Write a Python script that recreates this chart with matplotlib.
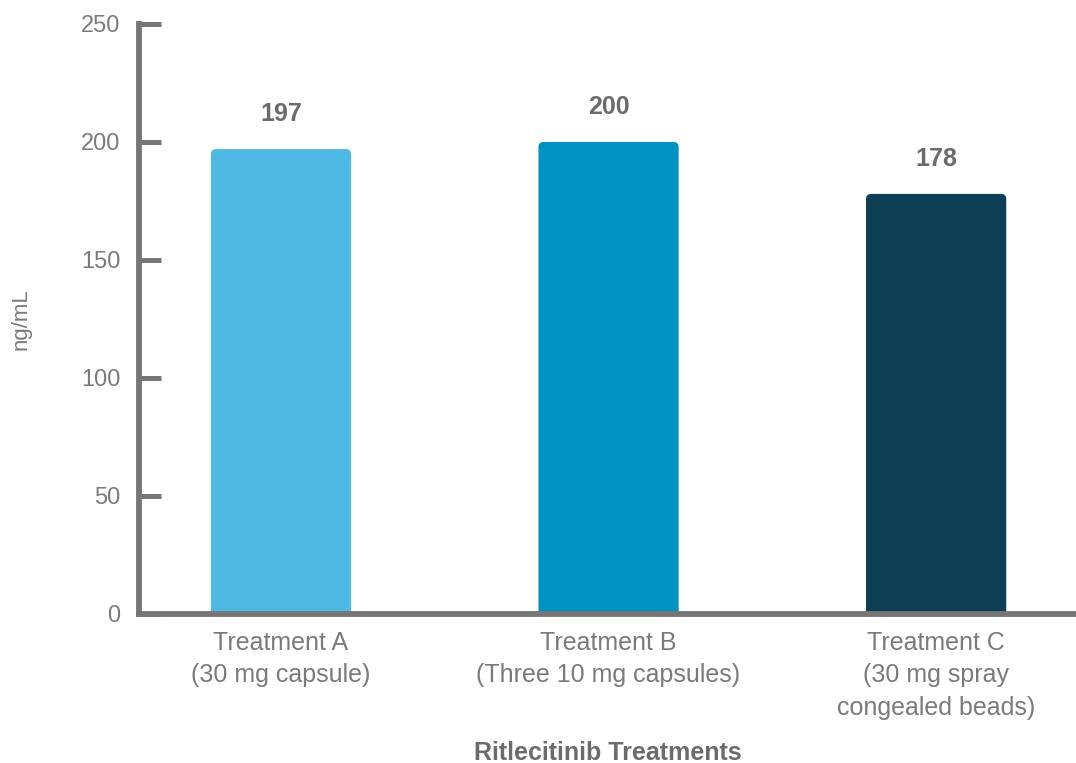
import matplotlib
matplotlib.use("Agg")
import matplotlib.pyplot as plt
from matplotlib.patches import FancyBboxPatch

categories = ["Treatment A\n(30 mg capsule)",
              "Treatment B\n(Three 10 mg capsules)",
              "Treatment C\n(30 mg spray\ncongealed beads)"]
values = [197, 200, 178]
colors = ["#4FB9E6", "#0093C2", "#0D3F54"]
yticks = [0, 50, 100, 150, 200, 250]

plt.rcParams['font.family'] = ['Liberation Sans', 'DejaVu Sans']

fig = plt.figure(figsize=(10.76, 7.63), dpi=100)
ax = fig.add_axes([0.129, 0.1953, 0.871, 0.7733])

x = list(range(len(values)))
bars = ax.bar(x, values, width=0.428, color=colors, zorder=1)
# replace with slightly rounded bars using the bars' own geometry
for b in bars:
    bx, bw, bh = b.get_x(), b.get_width(), b.get_height()
    fc = b.get_facecolor()
    b.set_visible(False)
    p = FancyBboxPatch((bx, -6), bw, bh + 6,
                       boxstyle="round,pad=0,rounding_size=0.016",
                       mutation_aspect=130, facecolor=fc, edgecolor='none',
                       zorder=1)
    ax.add_patch(p)

for xi, v in zip(x, values):
    ax.text(xi, v + 12, str(v), ha='center', va='baseline', fontsize=18,
            fontweight='bold', color='#6b6b6b')

ax.set_xlim(-0.434, 2.427)
ax.set_ylim(0, 250)
ax.set_yticks(yticks)
ax.set_xticks(x)
ax.set_xticklabels(categories, fontsize=18, color='#7a7a7a', linespacing=1.45)

spine_c = '#767676'
for s in ['top', 'right']:
    ax.spines[s].set_visible(False)
for s in ['left', 'bottom']:
    ax.spines[s].set_color(spine_c)
    ax.spines[s].set_linewidth(4.2)
    ax.spines[s].set_zorder(3)

ax.tick_params(axis='y', direction='in', length=16, width=3.6, color=spine_c,
               labelsize=17, labelcolor='#7a7a7a', pad=13)
ax.tick_params(axis='x', length=0, pad=12)

ax.set_ylabel('ng/mL', fontsize=16, color='#7a7a7a', labelpad=36)
ax.set_xlabel('Ritlecitinib Treatments', fontsize=18, fontweight='bold',
              color='#6b6b6b')
ax.xaxis.set_label_coords(0.5, -0.215)

fig.savefig('out.png', dpi=100)
